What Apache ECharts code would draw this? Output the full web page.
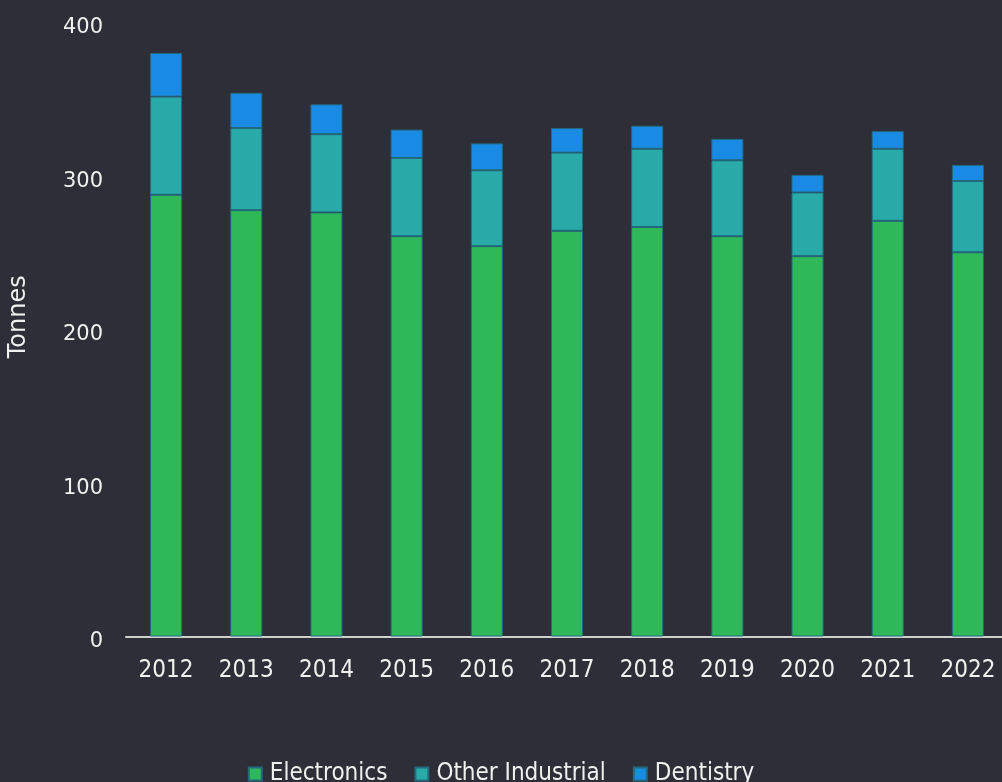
<!DOCTYPE html>
<html><head><meta charset="utf-8">
<script src="https://cdn.jsdelivr.net/npm/echarts@6/dist/echarts.min.js"></script>
<style>html,body{margin:0;padding:0;background:#2e2e38;}#c{width:1002px;height:782px;}</style>
</head><body><div id="c"></div>
<script>
var years = ['2012','2013','2014','2015','2016','2017','2018','2019','2020','2021','2022'];
var electronics = [288, 278, 276.5, 261, 254.5, 264.5, 267, 261, 248, 271, 250.5];
var otherIndustrial = [64, 53.5, 51, 51, 49.5, 51, 51, 49.5, 41.5, 47, 46.5];
var dentistry = [28.5, 23, 19.5, 18.5, 17.5, 16, 15, 14, 11.5, 11.5, 10.5];
var yTicks = [0, 100, 200, 300, 400];

var chart = echarts.init(document.getElementById('c'), null, {renderer:'canvas'});
var border = {borderColor:'#226a7e', borderWidth:1};
chart.setOption({
  backgroundColor:'#2e2e38',
  animation:false,
  grid:{left:126, top:23, width:882, bottom:145.5, containLabel:false, outerBoundsMode:'none'},
  legend:{
    top:757, left:'center',
    itemWidth:13, itemHeight:13, itemGap:27,
    icon:'rect',
    textStyle:{color:'#f0f0f0', fontSize:24, fontFamily:'DejaVu Sans Condensed', padding:[0,0,0,3]},
    data:['Electronics','Other Industrial','Dentistry']
  },
  xAxis:{
    type:'category', data:years,
    axisLine:{lineStyle:{color:'#d0d0d0', width:2}},
    axisTick:{show:false},
    axisLabel:{color:'#f0f0f0', fontSize:24, fontFamily:'DejaVu Sans Condensed', margin:22}
  },
  yAxis:{
    type:'value', min:yTicks[0], max:yTicks[yTicks.length-1], interval:100,
    name:'Tonnes', nameLocation:'middle', nameGap:95, nameRotate:90,
    nameTextStyle:{color:'#f0f0f0', fontSize:24, fontFamily:'DejaVu Sans', padding:[0,0,0,26]},
    splitLine:{show:false}, axisLine:{show:false}, axisTick:{show:false},
    axisLabel:{color:'#f0f0f0', fontSize:21, fontFamily:'DejaVu Sans', margin:23, verticalAlign:'top', lineHeight:10}
  },
  series:[
    {name:'Electronics', type:'bar', stack:'t', data:electronics, barWidth:'40%', itemStyle:Object.assign({color:'#2eb85a'}, border)},
    {name:'Other Industrial', type:'bar', stack:'t', data:otherIndustrial, barWidth:'40%', itemStyle:Object.assign({color:'#27aaa8'}, border)},
    {name:'Dentistry', type:'bar', stack:'t', data:dentistry, barWidth:'40%', itemStyle:Object.assign({color:'#1a8be5'}, border)}
  ]
});
</script></body></html>
